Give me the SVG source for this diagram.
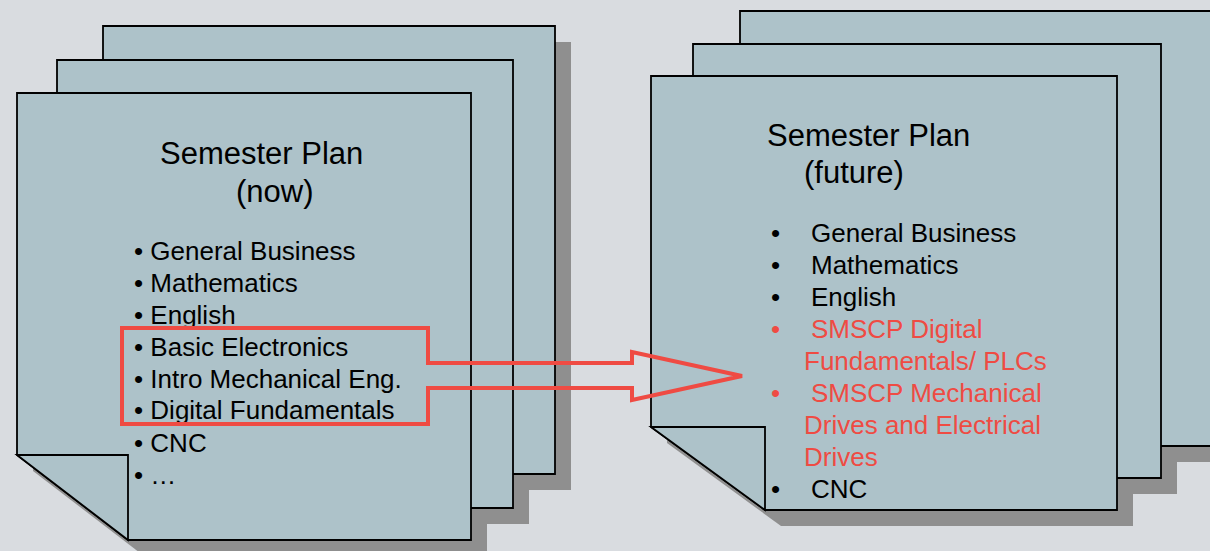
<svg xmlns="http://www.w3.org/2000/svg" width="1210" height="551" viewBox="0 0 1210 551">
  <style>
    .shadow { fill: #8f8f8f; stroke: none; }
    .sheet { fill: #adc2c9; stroke: #000; stroke-width: 1.8; stroke-linejoin: miter; }
    .title { font-family: "Liberation Sans", Arial, sans-serif; font-size: 31px; fill: #000; }
    .item { font-family: "Liberation Sans", Arial, sans-serif; font-size: 26px; fill: #000; }
    .red { fill: #ef4b43; }
    .hl { fill: none; stroke: #ef4b43; stroke-width: 4; stroke-linejoin: miter; }
  </style>
  <rect x="0" y="0" width="1210" height="551" fill="#d9dce0"/>

  <g id="plan-now">
    <polygon class="shadow" points="119,42 571,42 571,490 230,490 119,405"/>
    <polygon class="shadow" points="73,76 529,76 529,524 184,524 73,438"/>
    <polygon class="shadow" points="33,109 487,109 487,556 144,556 33,471"/>
    <polygon class="sheet" points="103,26 555,26 555,474 214,474 103,389"/>
    <polygon class="sheet" points="57,60 513,60 513,508 168,508 57,422"/>
    <polygon class="sheet" points="17,93 471,93 471,540 128,540 17,455"/>
    <polygon class="sheet" points="17,455 128,455 128,540"/>
    <text class="title" x="160" y="164">Semester Plan</text>
    <text class="title" x="236" y="202">(now)</text>
    <text class="item" x="134" y="260">• General Business</text>
    <text class="item" x="134" y="292">• Mathematics</text>
    <text class="item" x="134" y="324">• English</text>
    <text class="item" x="134" y="356">• Basic Electronics</text>
    <text class="item" x="134" y="388">• Intro Mechanical Eng.</text>
    <text class="item" x="134" y="419">• Digital Fundamentals</text>
    <text class="item" x="134" y="452">• CNC</text>
    <text class="item" x="134" y="484">• …</text>
  </g>

  <g id="plan-future">
    <polygon class="shadow" points="756,27 1236,27 1236,462 870,462 756,379"/>
    <polygon class="shadow" points="709,60 1177,60 1177,494 823,494 709,411"/>
    <polygon class="shadow" points="667,92 1133,92 1133,526 781,526 667,443"/>
    <polygon class="sheet" points="740,11 1220,11 1220,446 854,446 740,363"/>
    <polygon class="sheet" points="693,44 1161,44 1161,478 807,478 693,395"/>
    <polygon class="sheet" points="651,76 1117,76 1117,510 765,510 651,427"/>
    <polygon class="sheet" points="651,427 765,427 765,510"/>
    <text class="title" x="767" y="146">Semester Plan</text>
    <text class="title" x="804" y="183">(future)</text>
    <text class="item" x="771" y="242">•</text>
    <text class="item" x="811" y="242">General Business</text>
    <text class="item" x="771" y="274">•</text>
    <text class="item" x="811" y="274">Mathematics</text>
    <text class="item" x="771" y="306">•</text>
    <text class="item" x="811" y="306">English</text>
    <text class="item red" x="771" y="338">•</text>
    <text class="item red" x="811" y="338">SMSCP Digital</text>
    <text class="item red" x="804" y="370">Fundamentals/ PLCs</text>
    <text class="item red" x="771" y="402">•</text>
    <text class="item red" x="811" y="402">SMSCP Mechanical</text>
    <text class="item red" x="804" y="434">Drives and Electrical</text>
    <text class="item red" x="804" y="466">Drives</text>
    <text class="item" x="771" y="498">•</text>
    <text class="item" x="811" y="498">CNC</text>
  </g>

  <g id="connectors">
    <path class="hl" d="M428,363 L428,328 L122,328 L122,424 L428,424 L428,388 L632,388 L632,400 L742,376 L632,352 L632,363 Z"/>
  </g>
</svg>
